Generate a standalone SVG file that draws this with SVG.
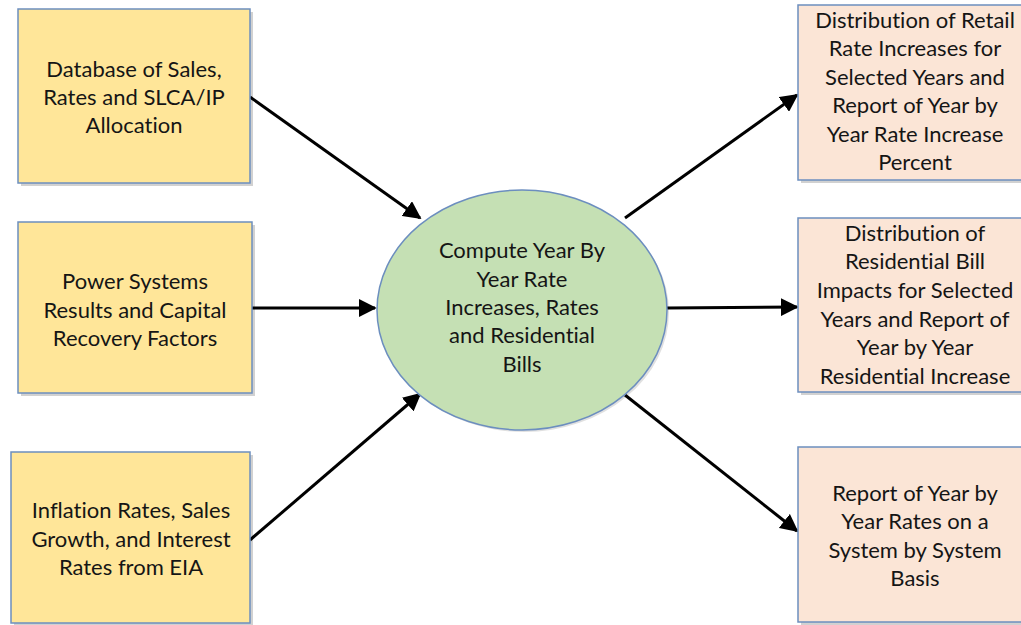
<svg xmlns="http://www.w3.org/2000/svg" width="1021" height="625" viewBox="0 0 1021 625">
<defs>
<style>
.in{fill:#FFE699;stroke:#6C8EBF;stroke-width:1.5}
.out{fill:#FBE5D6;stroke:#6C8EBF;stroke-width:1.5}
.sh{fill:#000;opacity:0.18}
.t{font-family:Lato,"Liberation Sans",sans-serif;font-size:22px;fill:#151515;text-anchor:middle;font-variant-ligatures:none}
.c{stroke:#000;stroke-width:3;fill:none;marker-end:url(#ah)}
</style>
<marker id="ah" viewBox="0 0 10 10" refX="9" refY="5" markerWidth="6" markerHeight="6" orient="auto" markerUnits="strokeWidth">
<path d="M0,0 L10,5 L0,10 z" fill="#000"/>
</marker>
</defs>
<rect width="1021" height="625" fill="#fff"/>
<g id="connectors">
<line class="c" x1="250" y1="97" x2="420" y2="218"/>
<line class="c" x1="252" y1="308" x2="375" y2="308"/>
<line class="c" x1="250" y1="540" x2="420" y2="394"/>
<line class="c" x1="625" y1="218" x2="797" y2="95"/>
<line class="c" x1="667" y1="308" x2="797" y2="307"/>
<line class="c" x1="625" y1="395" x2="797" y2="531"/>
</g>
<g id="n-database">
<rect class="sh" x="21" y="12" width="232" height="174"/>
<rect class="in" x="18" y="9" width="232" height="174"/>
<text class="t" x="134" y="77">Database of Sales,</text>
<text class="t" x="134" y="105">Rates and SLCA/IP</text>
<text class="t" x="134" y="133">Allocation</text>
</g>
<g id="n-power">
<rect class="sh" x="21" y="225" width="234" height="171"/>
<rect class="in" x="18" y="222" width="234" height="171"/>
<text class="t" x="135" y="289">Power Systems</text>
<text class="t" x="135" y="318">Results and Capital</text>
<text class="t" x="135" y="346">Recovery Factors</text>
</g>
<g id="n-inflation">
<rect class="sh" x="14" y="455" width="239" height="171"/>
<rect class="in" x="11" y="452" width="239" height="171"/>
<text class="t" x="131" y="518">Inflation Rates, Sales</text>
<text class="t" x="131" y="547">Growth, and Interest</text>
<text class="t" x="131" y="575">Rates from EIA</text>
</g>
<g id="n-compute">
<ellipse cx="524" cy="312" rx="145" ry="120" fill="#000" opacity="0.12"/>
<ellipse cx="522" cy="310" rx="145" ry="120" fill="#C5E0B4" stroke="#6C8EBF" stroke-width="1.5"/>
<text class="t" x="522" y="258">Compute Year By</text>
<text class="t" x="522" y="287">Year Rate</text>
<text class="t" x="522" y="315">Increases, Rates</text>
<text class="t" x="522" y="343">and Residential</text>
<text class="t" x="522" y="372">Bills</text>
</g>
<g id="n-retail">
<rect class="sh" x="801" y="8" width="240" height="175"/>
<rect class="out" x="798" y="5" width="240" height="175"/>
<text class="t" x="915" y="28">Distribution of Retail</text>
<text class="t" x="915" y="56">Rate Increases for</text>
<text class="t" x="915" y="85">Selected Years and</text>
<text class="t" x="915" y="113">Report of Year by</text>
<text class="t" x="915" y="142">Year Rate Increase</text>
<text class="t" x="915" y="170">Percent</text>
</g>
<g id="n-residential">
<rect class="sh" x="801" y="221" width="240" height="174"/>
<rect class="out" x="798" y="218" width="240" height="174"/>
<text class="t" x="915" y="241">Distribution of</text>
<text class="t" x="915" y="269">Residential Bill</text>
<text class="t" x="915" y="298">Impacts for Selected</text>
<text class="t" x="915" y="327">Years and Report of</text>
<text class="t" x="915" y="355">Year by Year</text>
<text class="t" x="915" y="384">Residential Increase</text>
</g>
<g id="n-system">
<rect class="sh" x="801" y="450" width="240" height="175"/>
<rect class="out" x="798" y="447" width="240" height="175"/>
<text class="t" x="915" y="501">Report of Year by</text>
<text class="t" x="915" y="529">Year Rates on a</text>
<text class="t" x="915" y="558">System by System</text>
<text class="t" x="915" y="586">Basis</text>
</g>
</svg>
